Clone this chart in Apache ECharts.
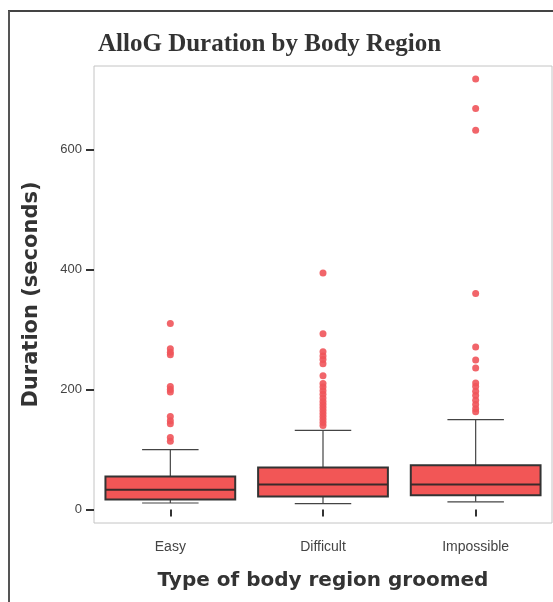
<!DOCTYPE html>
<html>
<head>
<meta charset="utf-8">
<script src="https://cdn.jsdelivr.net/npm/echarts@6/dist/echarts.min.js"></script>
<style>
html,body{margin:0;padding:0;background:#fff;}
#chart{width:553px;height:602px;}
</style>
</head>
<body>
<div id="chart"></div>
<script>
var categories = ['Easy', 'Difficult', 'Impossible'];
// [lower whisker, Q1, median, Q3, upper whisker]
var boxEasy = [11, 17, 33, 55, 100];
var boxDifficult = [10, 22, 42, 70, 132];
var boxImpossible = [13, 24, 42, 74, 150];
var outliersEasy = [310, 268, 262, 258, 205, 200, 196, 155, 148, 143, 120, 114];
var outliersDifficult = [394, 293, 263, 256, 250, 243, 223, 210, 204, 198, 192, 186, 180, 175, 170, 165, 160, 155, 150, 145, 140];
var outliersImpossible = [717, 668, 632, 360, 271, 249, 236, 211, 205, 197, 190, 182, 175, 168, 163];
var yTicks = [0, 200, 400, 600];

var boxes = [boxEasy, boxDifficult, boxImpossible];
var outlierSets = [outliersEasy, outliersDifficult, outliersImpossible];

var boxData = boxes.map(function (b, i) { return [i].concat(b); });
var outlierData = [];
outlierSets.forEach(function (set, i) {
  set.forEach(function (v) { outlierData.push([i, v]); });
});

var chart = echarts.init(document.getElementById('chart'));

function renderBox(params, api) {
  var idx = api.value(0);
  var lo = api.coord([idx, api.value(1)]);
  var q1 = api.coord([idx, api.value(2)]);
  var med = api.coord([idx, api.value(3)]);
  var q3 = api.coord([idx, api.value(4)]);
  var hi = api.coord([idx, api.value(5)]);
  var band = api.size([1, 0])[0];
  var bw = band * 0.85;
  var cw = band * 0.37;
  var cx = q1[0];
  var wStyle = { stroke: '#444', lineWidth: 1.2 };
  return {
    type: 'group',
    children: [
      { type: 'line', shape: { x1: cx, y1: hi[1], x2: cx, y2: q3[1] }, style: wStyle },
      { type: 'line', shape: { x1: cx, y1: q1[1], x2: cx, y2: lo[1] }, style: wStyle },
      { type: 'line', shape: { x1: cx - cw / 2, y1: hi[1], x2: cx + cw / 2, y2: hi[1] }, style: wStyle },
      { type: 'line', shape: { x1: cx - cw / 2, y1: lo[1], x2: cx + cw / 2, y2: lo[1] }, style: wStyle },
      { type: 'rect', shape: { x: cx - bw / 2, y: q3[1], width: bw, height: q1[1] - q3[1] },
        style: { fill: '#f25656', stroke: '#333', lineWidth: 2 } },
      { type: 'line', shape: { x1: cx - bw / 2, y1: med[1], x2: cx + bw / 2, y2: med[1] },
        style: { stroke: '#3a2a2a', lineWidth: 2 } }
    ]
  };
}

var option = {
  backgroundColor: '#ffffff',
  animation: false,
  title: {
    text: 'AlloG Duration by Body Region',
    left: 93,
    top: 27,
    textStyle: { fontFamily: 'Liberation Serif', fontWeight: 'bold', fontSize: 25, color: '#333' }
  },
  grid: {
    left: 94, right: 1, top: 66, bottom: 79,
    show: true, borderColor: '#c4c4c4', borderWidth: 1, backgroundColor: '#fff'
  },
  xAxis: {
    type: 'category',
    data: categories,
    boundaryGap: true,
    axisLine: { show: false },
    axisTick: { show: true, alignWithLabel: true, length: 7, lineStyle: { color: '#333', width: 2 } },
    axisLabel: { margin: 17, fontFamily: 'Liberation Sans', fontSize: 14, color: '#444' },
    name: 'Type of body region groomed',
    nameLocation: 'middle',
    nameGap: 48,
    nameTextStyle: { fontFamily: 'DejaVu Sans', fontWeight: 'bold', fontSize: 20, color: '#333' }
  },
  yAxis: {
    type: 'value',
    min: -22.3,
    max: 738.8,
    splitLine: { show: false },
    axisLine: { show: false },
    axisTick: { show: true, length: 8, customValues: yTicks, lineStyle: { color: '#333', width: 2 } },
    axisLabel: { margin: 12, customValues: yTicks, fontFamily: 'Liberation Sans', fontSize: 13, color: '#444' },
    name: 'Duration (seconds)',
    nameLocation: 'middle',
    nameGap: 52,
    nameTextStyle: { fontFamily: 'DejaVu Sans', fontWeight: 'bold', fontSize: 21, color: '#333' }
  },
  graphic: [
    { type: 'line', shape: { x1: 8, y1: 11, x2: 553, y2: 11 }, style: { stroke: '#444', lineWidth: 2 }, z: 100 },
    { type: 'line', shape: { x1: 9, y1: 11, x2: 9, y2: 602 }, style: { stroke: '#555', lineWidth: 2 }, z: 100 }
  ],
  series: [
    {
      type: 'custom',
      renderItem: renderBox,
      encode: { x: 0, y: [1, 2, 3, 4, 5] },
      data: boxData,
      z: 2
    },
    {
      type: 'scatter',
      data: outlierData,
      symbol: 'circle',
      symbolSize: 7,
      itemStyle: { color: '#f0545a', opacity: 0.9 },
      z: 3
    }
  ]
};
chart.setOption(option);
</script>
</body>
</html>
